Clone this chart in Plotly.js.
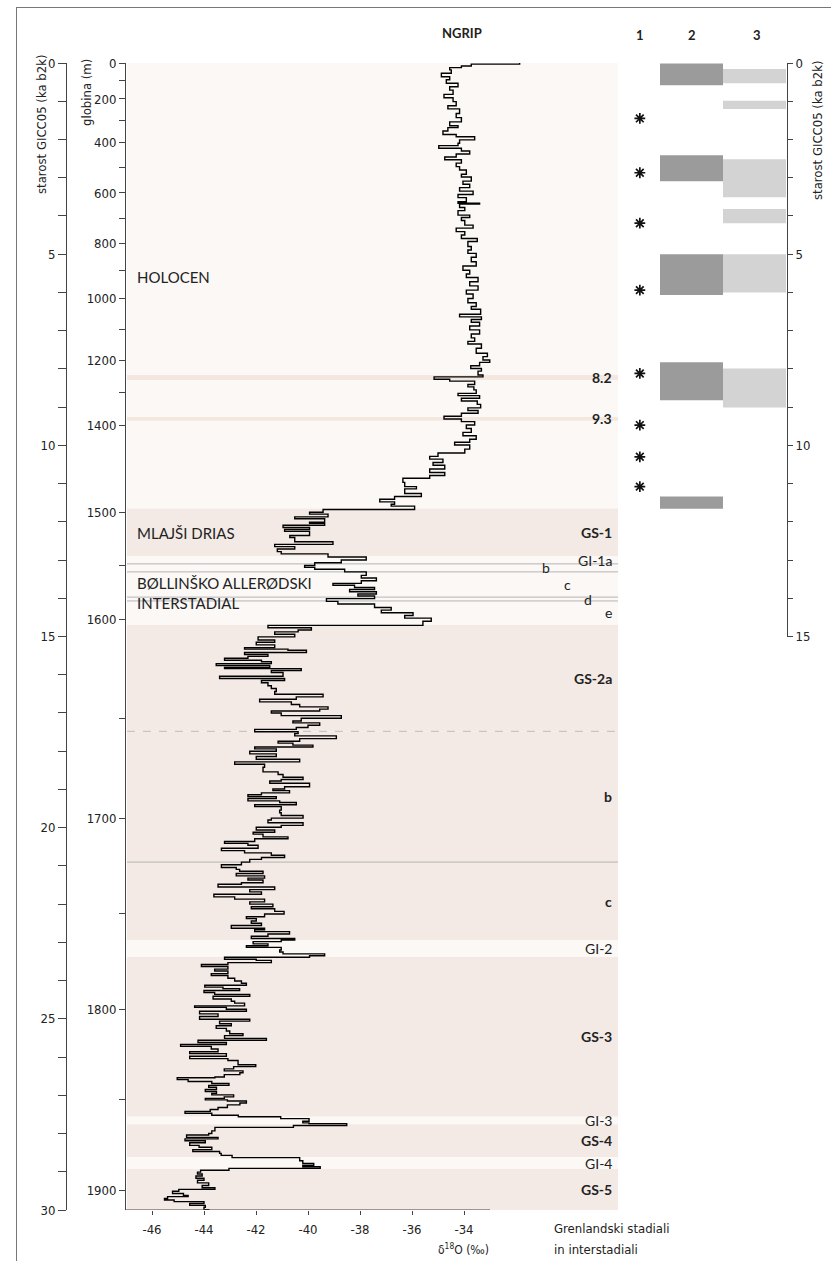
<!DOCTYPE html>
<html><head><meta charset="utf-8">
<script src="https://cdn.plot.ly/plotly-3.0.1.min.js"></script>
<style>html,body{margin:0;padding:0;background:#fff;}#chart{width:831px;height:1261px;}</style>
</head><body><div id="chart"></div>
<script>
// ---------- DATA ----------
// NGRIP d18O (permil) against GICC05 age (ka b2k) (step curve)
const ageKa = [
0.00,0.03,0.08,0.12,0.18,0.27,0.36,0.44,0.53,0.62,0.71,0.82,0.91,1.01,1.12,1.20,1.32,1.43,1.54,1.64,1.69,1.78,1.87,1.93,2.01,2.10,2.16,2.23,2.30,2.38,2.46,2.53,2.62,2.71,2.80,2.91,2.98,3.09,3.17,3.26,3.35,3.44,3.52,3.63,3.67,
3.69,3.78,3.86,3.98,4.04,4.12,4.24,4.32,4.41,4.50,4.59,4.67,4.80,4.89,4.98,5.08,5.20,5.31,5.42,5.52,5.61,5.72,5.83,5.94,6.04,6.16,6.27,6.37,6.44,6.57,6.64,6.71,6.78,6.88,6.98,7.09,7.19,7.28,7.35,7.46,
7.59,7.68,7.77,7.83,7.92,7.99,8.06,8.16,8.21,8.27,8.32,8.41,8.47,8.55,8.64,8.70,8.77,8.84,8.93,9.02,9.09,9.16,9.24,9.31,9.38,9.47,9.56,9.66,9.75,9.84,9.92,9.99,10.10,10.20,10.29,10.36,10.45,10.52,10.62,10.71,10.79,10.86,10.97,11.08,11.14,11.26,
11.34,11.41,11.48,11.54,11.59,11.68,11.75,11.80,11.87,11.92,12.01,12.04,12.09,12.15,12.20,12.25,12.36,12.41,12.52,12.59,12.65,12.71,12.78,12.84,12.92,13.00,13.07,13.14,13.19,13.24,13.31,13.40,13.47,13.54,13.61,13.66,13.72,13.77,13.83,13.89,13.94,14.01,14.08,14.15,14.24,14.31,14.38,14.45,14.52,14.60,14.71,14.77,14.83,14.88,14.94,15.01,
15.09,15.15,15.22,15.29,15.33,15.36,15.42,15.47,15.52,15.57,15.62,15.66,15.71,15.76,15.81,15.84,15.89,15.94,16.04,16.10,16.15,16.21,16.29,16.36,16.44,16.51,16.58,16.64,16.71,16.78,16.84,16.90,16.95,17.00,17.07,17.14,17.21,17.26,17.32,17.38,17.43,17.49,17.54,17.60,17.67,17.74,17.79,17.84,17.89,17.94,18.00,18.07,18.14,18.21,18.28,18.34,18.42,18.54,18.61,18.68,18.74,18.78,18.84,
18.93,18.99,19.03,19.09,19.14,19.19,19.24,19.30,19.34,19.40,19.45,19.54,19.61,19.68,19.75,19.80,19.87,19.94,19.99,20.06,20.12,20.17,20.24,20.29,20.36,20.41,20.46,20.54,20.60,20.66,20.72,20.78,20.83,20.90,20.97,21.04,21.09,21.14,21.20,21.26,21.32,21.37,21.44,21.48,21.55,21.62,21.68,21.74,21.81,21.87,21.94,22.00,22.07,22.12,22.19,22.26,22.33,22.38,22.44,22.50,22.56,22.63,
22.67,22.72,22.78,22.84,22.90,22.94,22.98,23.04,23.09,23.13,23.20,23.25,23.30,23.35,23.39,23.44,23.47,23.53,23.58,23.63,23.70,23.75,23.82,23.87,23.94,24.01,24.07,24.12,24.17,24.21,24.26,24.31,24.36,24.41,24.48,24.54,24.59,24.66,24.70,24.75,24.80,24.87,24.94,25.01,25.06,25.13,25.18,25.25,25.32,25.39,25.44,25.51,25.56,25.62,25.67,25.72,25.79,25.86,25.91,25.98,26.04,26.09,
26.20,26.25,26.31,26.36,26.41,26.46,26.52,26.54,26.59,26.64,26.69,26.74,26.79,26.85,26.90,26.95,26.99,27.04,27.08,27.12,27.15,27.20,27.25,27.32,27.37,27.42,27.47,27.52,27.56,27.61,27.68,27.72,27.74,27.79,27.84,27.93,28.00,28.04,28.10,28.14,28.19,28.24,28.31,28.36,28.42,28.47,28.52,28.57,28.63,28.71,28.78,28.83,28.87,28.91,28.96,29.01,29.06,29.11,29.17,29.22,29.29,29.36,29.42,29.46,29.51,29.57,29.62,29.65,29.70,29.74,29.78,29.83,29.88,29.93,29.99,30.00
];
const d18O = [
-31.86,-33.72,-34.10,-34.55,-34.49,-34.87,-34.55,-34.68,-34.23,-34.55,-34.42,-34.77,-34.42,-34.30,-34.62,-34.17,-34.30,-34.10,-34.55,-34.23,-34.62,-34.81,-34.30,-33.59,-34.17,-34.23,-34.97,-34.10,-33.78,-34.30,-34.74,-34.10,-34.30,-34.17,-33.91,-34.10,-33.72,-34.04,-33.78,-34.17,-33.65,-34.23,-33.91,-34.23,-33.40,
-34.17,-33.97,-34.23,-33.78,-34.10,-33.97,-33.65,-34.30,-33.97,-34.10,-33.49,-33.85,-33.72,-33.85,-33.53,-33.72,-33.53,-34.04,-33.78,-33.91,-33.46,-33.78,-33.46,-33.91,-33.65,-33.85,-33.53,-33.72,-33.36,-34.17,-33.33,-33.72,-33.40,-33.78,-33.40,-33.72,-33.59,-33.85,-33.33,-33.53,
-33.10,-33.27,-33.01,-33.40,-33.74,-33.33,-33.46,-33.27,-35.15,-34.55,-33.59,-33.85,-33.62,-33.53,-34.23,-33.40,-34.10,-33.49,-33.36,-33.85,-33.46,-34.10,-34.77,-34.10,-33.59,-33.91,-33.72,-34.04,-33.53,-33.78,-34.36,-33.78,-33.97,-35.00,-35.32,-34.81,-35.19,-34.74,-35.32,-34.74,-35.32,-36.35,-36.28,-35.83,-36.28,-35.64,
-36.67,-37.24,-36.67,-36.80,-35.90,-39.42,-39.94,-39.23,-40.51,-39.36,-39.94,-39.36,-40.96,-39.94,-40.90,-39.94,-40.70,-40.51,-39.04,-41.28,-40.51,-41.18,-41.03,-39.23,-37.76,-38.72,-39.74,-40.13,-39.74,-38.59,-37.76,-37.95,-37.37,-37.95,-39.04,-38.21,-37.44,-38.40,-37.37,-38.08,-37.44,-39.29,-38.85,-37.44,-36.80,-37.18,-35.96,-36.28,-35.26,-35.58,-41.54,-39.87,-40.38,-41.28,-40.51,-41.92,
-41.28,-41.99,-41.28,-42.44,-40.77,-40.06,-42.44,-41.54,-42.31,-43.21,-41.79,-41.41,-43.53,-41.47,-43.21,-40.26,-41.41,-40.96,-43.40,-40.90,-41.79,-41.54,-41.41,-41.22,-41.28,-39.42,-40.45,-41.86,-40.64,-40.32,-39.23,-39.55,-41.41,-41.03,-38.72,-40.26,-40.58,-39.55,-40.00,-40.45,-42.05,-40.38,-40.51,-38.91,-40.32,-41.15,-40.58,-39.81,-42.05,-41.22,-42.24,-41.22,-41.99,-40.32,-42.82,-41.67,-41.73,-41.15,-40.96,-40.19,-41.03,-41.47,-39.94,
-40.90,-41.35,-40.71,-41.79,-42.31,-41.22,-42.31,-41.09,-40.45,-42.05,-41.03,-41.09,-41.03,-40.19,-41.41,-41.54,-40.19,-41.03,-41.99,-41.28,-42.11,-41.73,-40.77,-42.05,-43.21,-42.31,-41.92,-43.33,-42.44,-41.41,-40.90,-41.79,-42.24,-42.56,-43.33,-42.76,-42.63,-41.73,-42.76,-41.67,-42.31,-41.73,-42.56,-43.46,-41.28,-42.24,-41.79,-43.62,-42.82,-41.67,-42.24,-41.35,-42.18,-41.28,-40.92,-41.67,-42.37,-41.99,-42.18,-41.79,-42.95,-41.67,
-42.05,-40.71,-41.54,-42.18,-40.51,-41.03,-42.11,-41.54,-42.37,-41.03,-41.09,-40.96,-39.36,-39.94,-43.21,-41.99,-41.41,-43.08,-44.10,-43.08,-43.59,-43.08,-43.72,-43.08,-42.82,-42.56,-42.37,-43.97,-43.27,-42.63,-44.00,-43.59,-42.24,-43.65,-42.95,-42.82,-42.44,-44.36,-43.14,-42.37,-44.17,-43.46,-44.17,-42.24,-43.40,-42.95,-43.53,-43.14,-43.01,-42.50,-43.21,-41.60,-44.23,-43.14,-44.90,-43.72,-43.46,-44.55,-43.14,-44.55,-43.08,-42.69,
-42.01,-42.86,-43.22,-42.50,-42.62,-43.22,-43.58,-45.03,-44.61,-43.70,-43.04,-43.82,-43.52,-43.95,-43.52,-43.70,-42.86,-43.22,-43.95,-43.10,-42.37,-42.62,-43.10,-43.46,-43.76,-44.73,-43.70,-42.68,-41.05,-39.96,-40.20,-39.96,-38.51,-40.56,-43.58,-43.70,-43.82,-44.67,-43.46,-44.73,-43.95,-44.55,-44.19,-43.70,-44.43,-43.40,-43.34,-42.92,-40.32,-40.20,-39.78,-40.20,-39.53,-43.04,-44.13,-44.25,-44.07,-44.31,-44.00,-44.25,-43.82,-44.07,-43.58,-44.97,-45.21,-44.79,-44.61,-45.40,-45.52,-45.15,-44.00,-44.55,-43.95,-44.00,-43.82,-43.82
];
// depth (m) vs age (ka) tie points
const depthRefM   = [0, 200, 400, 600, 800, 1000, 1200, 1400, 1500, 1600, 1700, 1800, 1900];
const depthRefAge = [0.00, 0.94, 2.09, 3.40, 4.73, 6.15, 7.77, 9.47, 11.75, 14.55, 19.75, 24.75, 29.48];
const depthLabelM = [0, 200, 400, 600, 800, 1000, 1200, 1400, 1500, 1600, 1700, 1800, 1900];
const depthMinorM = [100, 300, 500, 700, 900, 1100, 1300, 1550, 1650, 1750, 1850];
const xTicks = [-46, -44, -42, -40, -38, -36, -34];
// event stratigraphy (ka b2k)
const evName  = ['', 'GS-1', 'GI-1a', 'b', 'c', 'd', 'e', 'GS-2a', 'b', 'c', 'GI-2', 'GS-3', 'GI-3', 'GS-4', 'GI-4', 'GS-5'];
const evStart = [0.00, 11.65, 12.90, 13.10, 13.31, 13.97, 14.07, 14.70, 17.48, 20.90, 22.94, 23.38, 27.56, 27.76, 28.62, 28.93];
const evEnd   = [11.65, 12.90, 13.10, 13.31, 13.97, 14.07, 14.70, 17.48, 20.90, 22.94, 23.38, 27.56, 27.76, 28.62, 28.93, 30.00];
const evStadial=[false, true, false, false, false, false, false, true, true, true, false, true, false, true, false, true];
const subLines = [13.10, 13.31, 13.97, 14.07, 20.90];
const dashLines = [17.48];
const eventName = ['8.2', '9.3'];
const eventStart = [8.16, 9.26];
const eventEnd = [8.29, 9.36];
// right-hand columns
const col1Ages  = [1.45, 2.87, 4.19, 5.94, 8.12, 9.47, 10.30, 11.08];
const col2Start = [0.01, 2.41, 5.00, 7.83, 11.34];
const col2End   = [0.58, 3.09, 6.07, 8.82, 11.66];
const col3Start = [0.16, 0.99, 2.52, 3.82, 5.00, 7.99];
const col3End   = [0.53, 1.20, 3.51, 4.19, 6.00, 9.01];

// ---------- LAYOUT HELPERS ----------
const W = 831, H = 1261;
const px = v => v / W, py = v => 1 - v / H;
const NARROW = '"Liberation Sans Narrow", "DejaVu Sans Condensed", "Arial Narrow", sans-serif';
const SANS = 'Lato, "Open Sans", sans-serif';
const DARK = '#f4eae5', LIGHT = '#fbf8f6', AX = '#444';

function depthToAge(d) {
  for (let i = 0; i < depthRefM.length - 1; i++) {
    if (d >= depthRefM[i] && d <= depthRefM[i + 1]) {
      const t = (d - depthRefM[i]) / (depthRefM[i + 1] - depthRefM[i]);
      return depthRefAge[i] + t * (depthRefAge[i + 1] - depthRefAge[i]);
    }
  }
  return depthRefAge[depthRefAge.length - 1];
}

// ---------- TRACES ----------
const traces = [
  {x: d18O, y: ageKa, type: 'scatter', mode: 'lines', line: {shape: 'vh', color: '#000', width: 1.4},
   xaxis: 'x', yaxis: 'y', hoverinfo: 'skip'},
  {x: [null], y: [null], type: 'scatter', mode: 'markers', xaxis: 'x', yaxis: 'y2', hoverinfo: 'skip'},
  {x: [null], y: [null], type: 'scatter', mode: 'markers', xaxis: 'x', yaxis: 'y4', hoverinfo: 'skip'},
  {type: 'bar', x: col2Start.map(() => 0.5), base: col2Start, y: col2Start.map((s, i) => col2End[i] - s),
   width: 1, marker: {color: '#9b9b9b', line: {width: 0}}, xaxis: 'x2', yaxis: 'y3', hoverinfo: 'skip'},
  {type: 'bar', x: col3Start.map(() => 1.5), base: col3Start, y: col3Start.map((s, i) => col3End[i] - s),
   width: 1, marker: {color: '#d3d3d3', line: {width: 0}}, xaxis: 'x2', yaxis: 'y3', hoverinfo: 'skip'},
  {type: 'scatter', mode: 'markers', x: col1Ages.map(() => -0.32), y: col1Ages, cliponaxis: false,
   marker: {symbol: 'asterisk-open', size: 9, color: '#111', line: {width: 1.7, color: '#111'}},
   xaxis: 'x2', yaxis: 'y3', hoverinfo: 'skip'}
];

// ---------- SHAPES ----------
const shapes = [];
evStart.forEach((s, i) => shapes.push({type: 'rect', xref: 'paper', yref: 'y', x0: px(127), x1: px(618),
  y0: s, y1: evEnd[i], fillcolor: evStadial[i] ? DARK : LIGHT, line: {width: 0}, layer: 'below'}));
eventStart.forEach((s, i) => shapes.push({type: 'rect', xref: 'paper', yref: 'y', x0: px(127), x1: px(618),
  y0: s, y1: eventEnd[i], fillcolor: '#f4e7e0', line: {width: 0}, layer: 'below'}));
subLines.forEach(a => shapes.push({type: 'line', xref: 'paper', yref: 'y', x0: px(127), x1: px(618),
  y0: a, y1: a, line: {color: '#b4b4b4', width: 1}, layer: 'below'}));
dashLines.forEach(a => shapes.push({type: 'line', xref: 'paper', yref: 'y', x0: px(127), x1: px(618),
  y0: a, y1: a, line: {color: '#bdbdbd', width: 1, dash: '8px,8px'}, layer: 'below'}));
// x-axis line from -47 to -33
shapes.push({type: 'line', xref: 'x', yref: 'y', x0: -47, x1: -33, y0: 30, y1: 30, line: {color: AX, width: 1}});
// frame
shapes.push({type: 'line', xref: 'paper', yref: 'paper', x0: px(16), x1: 1, y0: py(7.5), y1: py(7.5), line: {color: '#777', width: 1}});
shapes.push({type: 'line', xref: 'paper', yref: 'paper', x0: px(16.5), x1: px(16.5), y0: py(7), y1: 0, line: {color: '#777', width: 1}});

// ---------- ANNOTATIONS ----------
const annotations = [];
function ann(text, x, y, o = {}) {
  annotations.push(Object.assign({text, x: px(x), y: py(y), xref: 'paper', yref: 'paper', showarrow: false,
    xanchor: 'center', yanchor: 'middle', font: {family: SANS, size: 14, color: '#222'}}, o));
}
ann('<b>NGRIP</b>', 462, 33, {font: {family: SANS, size: 13, color: '#222'}});
ann('<b>1</b>', 640, 35, {font: {family: SANS, size: 13, color: '#222'}});
ann('<b>2</b>', 692, 35, {font: {family: SANS, size: 13, color: '#222'}});
ann('<b>3</b>', 757, 35, {font: {family: SANS, size: 13, color: '#222'}});
ann('HOLOCEN', 135, 277, {xanchor: 'left', font: {family: SANS, size: 15, color: '#222'}});
ann('MLAJŠI DRIAS', 135, 533, {xanchor: 'left', font: {family: SANS, size: 15, color: '#222'}});
ann('BØLLINŠKO ALLERØDSKI', 135, 583, {xanchor: 'left', font: {family: SANS, size: 15, color: '#222'}});
ann('INTERSTADIAL', 135, 603, {xanchor: 'left', font: {family: SANS, size: 15, color: '#222'}});
ann('starost GICC05 (ka b2k)', 42, 124, {textangle: -90, font: {family: NARROW, size: 13, color: '#222'}});
ann('globina (m)', 87, 93, {textangle: -90, font: {family: NARROW, size: 13, color: '#222'}});
ann('starost GICC05 (ka b2k)', 818, 130, {textangle: -90, font: {family: NARROW, size: 13, color: '#222'}});
ann('δ<sup>18</sup>O (‰)', 491, 1249, {xanchor: 'right', font: {family: NARROW, size: 12, color: '#222'}});
ann('Grenlandski stadiali', 552, 1228, {xanchor: 'left', font: {family: NARROW, size: 13, color: '#222'}});
ann('in interstadiali', 552, 1249, {xanchor: 'left', font: {family: NARROW, size: 13, color: '#222'}});
// event labels at band middles
const subX = {3: 546, 4: 567, 5: 588, 6: 608};
evName.forEach((n, i) => {
  if (!n) return;
  const mid = (evStart[i] + evEnd[i]) / 2;
  const bold = evStadial[i];
  const a = {text: bold ? '<b>' + n + '</b>' : n, xref: 'paper', yref: 'y', y: mid, showarrow: false,
    yanchor: 'middle', font: {family: SANS, size: 14, color: '#222'}};
  if (subX[i]) { a.x = px(subX[i]); a.xanchor = 'center'; }
  else { a.x = px(614); a.xanchor = 'right'; }
  annotations.push(a);
});
eventName.forEach((n, i) => annotations.push({text: '<b>' + n + '</b>', xref: 'paper', yref: 'y',
  x: px(614), xanchor: 'right', y: (eventStart[i] + eventEnd[i]) / 2, yanchor: 'middle', showarrow: false,
  font: {family: SANS, size: 14, color: '#222'}}));

// ---------- LAYOUT ----------
const tickFont = {family: NARROW, size: 13, color: '#222'};
const layout = {
  width: W, height: H, margin: {l: 0, r: 0, t: 0, b: 0, pad: 0},
  paper_bgcolor: '#fff', plot_bgcolor: 'rgba(0,0,0,0)', showlegend: false, barmode: 'overlay',
  xaxis: {domain: [px(126), px(530)], range: [-47, -47 + 404 / 26], tickvals: xTicks, ticktext: xTicks.map(String),
    ticks: 'outside', ticklen: 4, tickcolor: AX, showline: false, showgrid: false, zeroline: false,
    tickfont: tickFont, anchor: 'y', ticklabelstandoff: 3, fixedrange: true},
  yaxis: {domain: [py(1210), py(63)], range: [30, 0], tickvals: depthLabelM.map(depthToAge),
    ticktext: depthLabelM.map(String),
    ticks: 'outside', ticklen: 6, tickcolor: AX, showline: true, linecolor: AX, linewidth: 1,
    showgrid: false, zeroline: false, tickfont: tickFont, anchor: 'x', fixedrange: true},
  yaxis4: {overlaying: 'y', anchor: 'x', side: 'left', range: [30, 0], tickvals: depthMinorM.map(depthToAge),
    showticklabels: false, ticks: 'outside', ticklen: 6, tickcolor: AX, showline: false,
    showgrid: false, zeroline: false, fixedrange: true},
  yaxis2: {overlaying: 'y', anchor: 'free', position: px(66), side: 'left', range: [30, 0],
    tick0: 0, dtick: 5, ticks: 'outside', ticklen: 8, tickcolor: AX, showline: true, linecolor: AX,
    minor: {dtick: 1, ticks: 'outside', ticklen: 8, tickcolor: AX, showgrid: false},
    showgrid: false, zeroline: false, tickfont: tickFont, fixedrange: true},
  xaxis2: {domain: [px(620), px(786)], range: [-40 / 63, 2], visible: false, anchor: 'y3', fixedrange: true},
  yaxis3: {domain: [py(636.5), py(63)], range: [15, 0], anchor: 'free', position: px(787), side: 'right',
    tick0: 0, dtick: 5, ticks: 'outside', ticklen: 5, tickcolor: AX, showline: true, linecolor: AX,
    minor: {dtick: 1, ticks: 'outside', ticklen: 5, tickcolor: AX, showgrid: false},
    showgrid: false, zeroline: false, tickfont: tickFont, fixedrange: true},
  shapes, annotations
};
Plotly.newPlot('chart', traces, layout, {staticPlot: true, displayModeBar: false});
</script></body></html>
